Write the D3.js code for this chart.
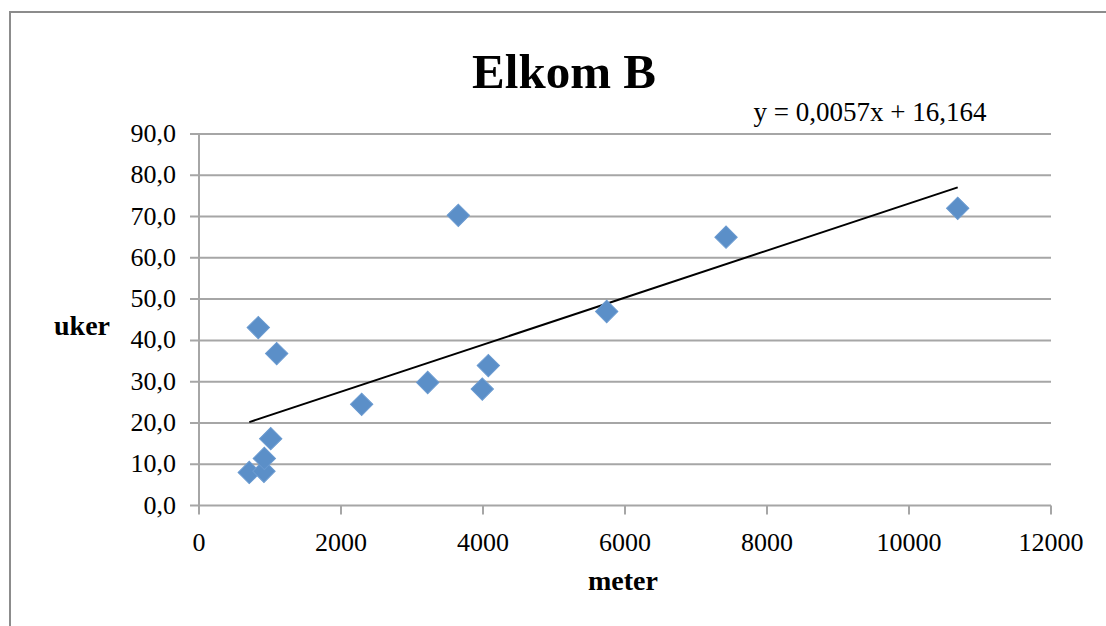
<!DOCTYPE html>
<html>
<head>
<meta charset="utf-8">
<script src="https://cdn.jsdelivr.net/npm/d3@7"></script>
<style>
  body { margin: 0; background: #fff; }
  text { font-family: "Liberation Serif", "Times New Roman", serif; fill: #000; }
</style>
</head>
<body>
<div id="chart"></div>
<script>
// meter (x) and uker (y)
var meter = [708, 915, 920, 1010, 835, 1094, 2291, 3221, 3652, 3990, 4075, 5742, 7423, 10686];
var uker  = [8.0, 8.3, 11.4, 16.2, 43.1, 36.8, 24.5, 29.8, 70.3, 28.2, 33.9, 47.0, 65.0, 72.0];

var xTicks = [0, 2000, 4000, 6000, 8000, 10000, 12000];
var yTicks = [0, 10, 20, 30, 40, 50, 60, 70, 80, 90];

// trend line y = 0,0057x + 16,164
var slope = 0.0057, intercept = 16.164;

var W = 1106, H = 626;
var svg = d3.select("#chart").append("svg")
    .attr("width", W)
    .attr("height", H);

// outer frame
svg.append("rect")
    .attr("x", 10).attr("y", 12)
    .attr("width", W + 20).attr("height", H + 20)
    .style("fill", "none")
    .style("stroke", "#8c8c8c")
    .style("stroke-width", 2);

var x = d3.scaleLinear().domain([0, 12000]).range([199, 1051]);
var y = d3.scaleLinear().domain([0, 90]).range([505.5, 134]);

var gray = "#a6a6a6";

// gridlines
svg.append("g")
  .selectAll("line")
  .data(yTicks)
  .enter()
  .append("line")
    .attr("x1", x(0) - 9)
    .attr("x2", x(12000))
    .attr("y1", function(d){ return y(d); })
    .attr("y2", function(d){ return y(d); })
    .style("stroke", gray)
    .style("stroke-width", 2);

// y axis line
svg.append("line")
    .attr("x1", x(0)).attr("x2", x(0))
    .attr("y1", y(90)).attr("y2", y(0))
    .style("stroke", gray)
    .style("stroke-width", 2);

// x ticks
svg.append("g")
  .selectAll("line")
  .data(xTicks)
  .enter()
  .append("line")
    .attr("x1", function(d){ return x(d); })
    .attr("x2", function(d){ return x(d); })
    .attr("y1", y(0))
    .attr("y2", y(0) + 9)
    .style("stroke", gray)
    .style("stroke-width", 2);

// tick labels
var fmt = function(d){ return d.toFixed(1).replace(".", ","); };

svg.append("g")
  .selectAll("text")
  .data(yTicks)
  .enter()
  .append("text")
    .attr("x", 176)
    .attr("y", function(d){ return y(d) + 8; })
    .attr("text-anchor", "end")
    .style("font-size", "26px")
    .text(fmt);

svg.append("g")
  .selectAll("text")
  .data(xTicks)
  .enter()
  .append("text")
    .attr("x", function(d){ return x(d); })
    .attr("y", 551)
    .attr("text-anchor", "middle")
    .style("font-size", "26px")
    .text(function(d){ return d; });

// trendline over the data range
var xmin = d3.min(meter), xmax = d3.max(meter);
svg.append("line")
    .attr("x1", x(xmin)).attr("y1", y(slope * xmin + intercept))
    .attr("x2", x(xmax)).attr("y2", y(slope * xmax + intercept))
    .style("stroke", "#000")
    .style("stroke-width", 2);

// points
var diamond = d3.symbol().type(d3.symbolSquare).size(250);
svg.append("g")
  .selectAll("path")
  .data(meter)
  .enter()
  .append("path")
    .attr("d", diamond)
    .attr("transform", function(d, i){ return "translate(" + x(d) + "," + y(uker[i]) + ") rotate(45)"; })
    .style("fill", "#5b8fc8")
    .style("stroke", "#6a9ad0")
    .style("stroke-width", 1);

// titles
svg.append("text")
    .attr("x", 564).attr("y", 88)
    .attr("text-anchor", "middle")
    .style("font-size", "49px")
    .style("font-weight", "bold")
    .text("Elkom B");

svg.append("text")
    .attr("x", 870).attr("y", 121)
    .attr("text-anchor", "middle")
    .style("font-size", "27px")
    .text("y = 0,0057x + 16,164");

svg.append("text")
    .attr("x", 82).attr("y", 335)
    .attr("text-anchor", "middle")
    .style("font-size", "28px")
    .style("font-weight", "bold")
    .text("uker");

svg.append("text")
    .attr("x", 623).attr("y", 590)
    .attr("text-anchor", "middle")
    .style("font-size", "28px")
    .style("font-weight", "bold")
    .text("meter");
</script>
</body>
</html>
